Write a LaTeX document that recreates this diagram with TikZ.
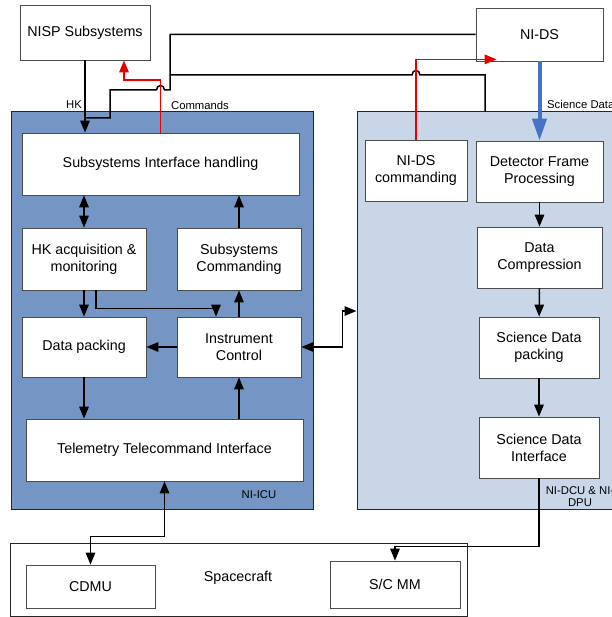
\documentclass[tikz,border=0pt]{standalone}
\usepackage{fontspec}
\setmainfont{Liberation Sans}
\usepackage{tikz}
\usetikzlibrary{arrows.meta}
\usetikzlibrary{positioning}
\definecolor{icublue}{RGB}{117,150,196}
\definecolor{dcublue}{RGB}{200,214,232}
\definecolor{sciblue}{RGB}{68,114,196}
\definecolor{cmdred}{RGB}{230,0,0}

\begin{document}
\begin{tikzpicture}[x=1pt,y=-1pt]
  \tikzset{box/.style = {shape=rectangle,draw=black!70,line width=0.8pt,fill=white,align=center,inner sep=1pt,font=\fontsize{14.3}{17}\selectfont}}
  \tikzset{unit/.style = {shape=rectangle,draw=black!85,line width=1pt,inner sep=0pt}}
  \tikzset{lbl/.style = {inner sep=0pt,align=center,font=\fontsize{11.3}{12}\selectfont}}
  \tikzset{wire/.style = {line width=1.5pt}}
  \tikzset{edge/.style = {-tipB,line width=1.5pt}}
  \tikzset{cmd/.style = {-tipB,line width=1.5pt,draw=cmdred}}
  \tikzset{sci/.style = {-{Triangle[length=22pt,width=14pt]},line width=4pt,draw=sciblue}}
  \tikzset{%
  tipB/.tip={Triangle[length=12pt,width=9.5pt]},
}
  \useasboundingbox (0,0) rectangle (611,617);

	% units
	\node[unit,fill=icublue,minimum width=302pt,minimum height=397pt] (ICU) at (162,310.5) {};
	\node[unit,fill=dcublue,minimum width=268pt,minimum height=397pt] (DCU) at (491,310.5) {};
	\node[unit,minimum width=457pt,minimum height=73pt] (SCF) at (238.5,579.5) {};

	\node[box,minimum width=130pt,minimum height=55pt] (NISP) at (85,32.5) {NISP Subsystems};
	\node[box,minimum width=127pt,minimum height=53pt] (NIDS) at (539.5,34.5) {NI-DS};

	\node[box,minimum width=277pt,minimum height=62pt] (SIH) at (160.5,164) {Subsystems Interface handling};
	\node[box,minimum width=124pt,minimum height=62pt] (HKA) at (84,259) {HK acquisition \&\\monitoring};
	\node[box,minimum width=124pt,minimum height=62pt] (SC) at (239,259) {Subsystems\\Commanding};
	\node[box,minimum width=124pt,minimum height=60pt] (DP) at (84,347) {Data packing};
	\node[box,minimum width=124pt,minimum height=60pt] (IC) at (239,347) {Instrument\\Control};
	\node[box,minimum width=277pt,minimum height=62pt] (TTI) at (164.5,450) {Telemetry Telecommand Interface};

	\node[box,minimum width=102pt,minimum height=61pt] (NIDSC) at (416,170.5) {NI-DS\\commanding};
	\node[box,minimum width=127pt,minimum height=61pt] (DFP) at (539.5,171.5) {Detector Frame\\Processing};
	\node[box,minimum width=125pt,minimum height=61pt] (DC) at (539.5,257.5) {Data\\Compression};
	\node[box,minimum width=120pt,minimum height=61pt] (SDP) at (539,347.5) {Science Data\\packing};
	\node[box,minimum width=120pt,minimum height=61pt] (SDI) at (539,447.5) {Science Data\\Interface};

	\node[box,minimum width=129pt,minimum height=43pt] (CDMU) at (90.5,586.5) {CDMU};
	\node[box,minimum width=130pt,minimum height=47pt] (SCMM) at (395,584.5) {S/C MM};

	% labels
	\node[lbl] (HKlbl) at (74,105) {HK};
	\node[lbl] (CMDlbl) at (200,105) {Commands};
	\node[lbl,anchor=west] (SCIlbl) at (547,104) {Science Data};
	\node[lbl] (ICUlbl) at (259,495) {NI-ICU};
	\node[lbl] (DCUlbl) at (580,497) {NI-DCU \& NI-\\DPU};
	\node[inner sep=0pt,font=\fontsize{14.3}{17}\selectfont] (SClbl) at (238,578) {Spacecraft};

	\coordinate (HKjoin) at (85,118);

	% HK lines
	\draw[edge] (NISP) -- (NISP |- SIH.north);
	\draw[wire] (NIDS.west) -| (170,90) -- (164.5,90) .. controls (164.5,84) and (156.5,84) .. (156.5,90) -- (110,90) |- (HKjoin);
	\draw[wire] (485,0 |- DCU.north) |- (420,75) .. controls (420,69) and (412,69) .. (412,75) -- (170,75);

	% commands
	\draw[cmd] (SIH.north) |- (124,80) -- (124,0 |- NISP.south);
	\draw[cmd] (NIDSC.north) |- ([xshift=21pt,yshift=2pt]NIDS.south west);
	\draw[sci] (NIDS) -- (DFP);

    \foreach \from/\to in {HKA/DP, IC/SC, IC/DP, DFP/DC, DC/SDP, SDP/SDI}
    \path[edge](\from) edge (\to);

	\draw[edge] (SC) -- (SC |- SIH.south);
	\draw[edge] (DP) -- (DP |- TTI.north);
	\draw[edge] (TTI.north -| IC) -- (IC);
	\draw[edge,tipB-tipB] (HKA) -- (HKA |- SIH.south);
	\draw[edge] ([xshift=12pt]HKA.south) -- ++(0,18) -| ([xshift=-23pt]IC.north);
	\draw[edge,tipB-tipB] (IC.east) -- ++(41,0) |- (DCU.west |- 0,311);
	\draw[edge,tipB-tipB] (TTI.south) -- ++(0,55) -| (CDMU.north);
	\draw[edge] (SDI.south) -- ++(0,68) -| (SCMM.north);

\end{tikzpicture}
\end{document}
